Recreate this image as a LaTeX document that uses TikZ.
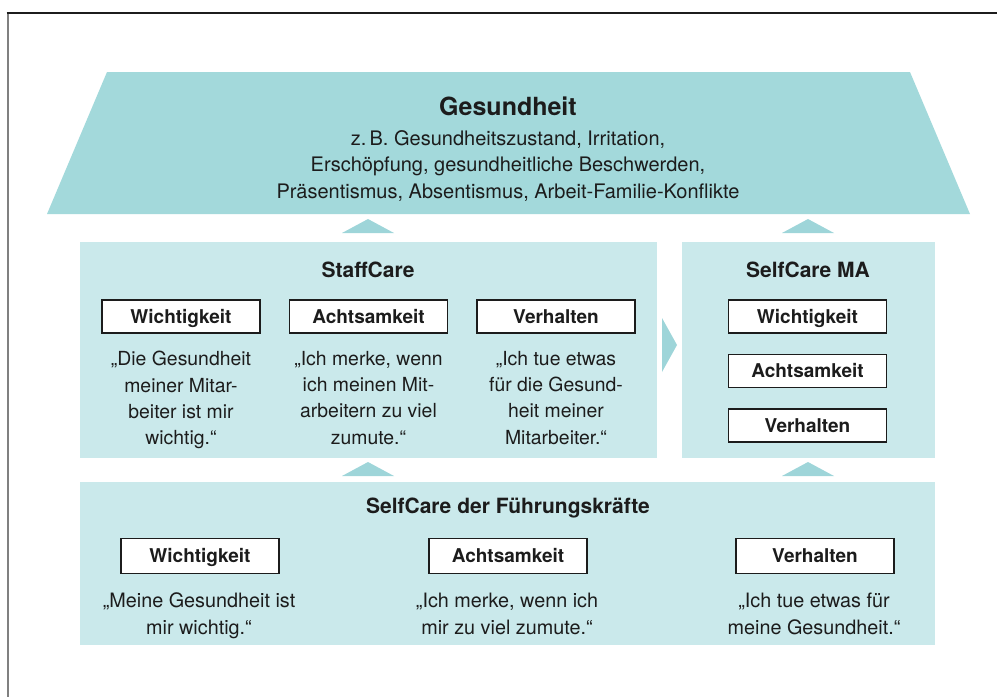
\documentclass[tikz,border=0pt]{standalone}
\usepackage{fontspec}
\setmainfont{TeX Gyre Heros}
\definecolor{roofteal}{RGB}{163,217,219}
\definecolor{panel}{RGB}{202,233,235}
\definecolor{arrowteal}{RGB}{158,213,217}
\definecolor{ink}{RGB}{28,28,28}

\begin{document}
\begin{tikzpicture}[x=1pt,y=-1pt,
  panelbox/.style={fill=panel, draw=none, inner sep=0pt},
  tag/.style={draw=ink, line width=1.1pt, fill=white, minimum width=158pt,
    minimum height=33pt, inner sep=0pt, text height=13pt, text depth=0pt,
    font=\fontsize{19}{22}\selectfont\bfseries, text=ink},
  quote/.style={align=center, font=\fontsize{19.4}{26.3}\selectfont, text=ink,
    inner sep=0pt, anchor=north},
  quotewide/.style={quote, font=\fontsize{19.8}{27}\selectfont},
  heading/.style={font=\fontsize{21}{24}\selectfont\bfseries, text=ink, inner sep=0pt},
  flowtip/.style={fill=arrowteal, draw=none},
]
\useasboundingbox (0,0) rectangle (997,697);

% page frame (top and left edge)
\draw[line width=2pt, draw=black!50] (7.5,13) -- (7.5,697);
\draw[line width=1.5pt, draw=ink] (6.5,13) -- (997,13);

% roof: Gesundheit
\fill[roofteal] (107,72) -- (910,72) -- (970,214) -- (47,214) -- cycle;
\node[font=\fontsize{25}{28}\selectfont\bfseries, text=ink, inner sep=0pt] (gtitle) at (508,106) {Gesundheit};
\node[quote, font=\fontsize{20}{26.5}\selectfont] (gtext) at (508,130) {z.\,B. Gesundheitszustand, Irritation,\\
  Erschöpfung, gesundheitliche Beschwerden,\\
  Präsentismus, Absentismus, Arbeit-Familie-Konflikte};

% middle row panels
\node[panelbox, minimum width=577pt, minimum height=216pt] (staff) at (368.5,350) {};
\node[panelbox, minimum width=253pt, minimum height=216pt] (selfma) at (808.5,350) {};
% bottom panel
\node[panelbox, minimum width=855pt, minimum height=163pt] (selffk) at (507.5,563.5) {};

% flow tips
\fill[flowtip] (342,233) -- (368,219) -- (394,233) -- cycle;
\fill[flowtip] (782,233) -- (808,219) -- (834,233) -- cycle;
\fill[flowtip] (342,476) -- (368,462) -- (394,476) -- cycle;
\fill[flowtip] (782,476) -- (808,462) -- (834,476) -- cycle;
\fill[flowtip] (662,318) -- (677,345) -- (662,372) -- cycle;

% StaffCare
\node[heading] (stitle) at (368,270) {StaffCare};
\node[tag] (sw) at (181,316.5) {Wichtigkeit};
\node[tag] (sa) at (368.5,316.5) {Achtsamkeit};
\node[tag] (sv) at (556,316.5) {Verhalten};
\node[quote] (swq) at (181,351) {„Die Gesundheit\\meiner Mitar-\\beiter ist mir\\wichtig.“};
\node[quote] (saq) at (368.5,351) {„Ich merke, wenn\\ich meinen Mit-\\arbeitern zu viel\\zumute.“};
\node[quote] (svq) at (556,351) {„Ich tue etwas\\für die Gesund-\\heit meiner\\Mitarbeiter.“};

% SelfCare MA
\node[heading] (mtitle) at (808,270) {SelfCare MA};
\node[tag] (mw) at (807.5,316.5) {Wichtigkeit};
\node[tag] (ma) at (807.5,371) {Achtsamkeit};
\node[tag] (mv) at (807.5,425.5) {Verhalten};

% SelfCare der Führungskräfte
\node[heading] (ftitle) at (508,508) {SelfCare der Führungskräfte};
\node[tag, minimum height=35pt] (fw) at (200,556) {Wichtigkeit};
\node[tag, minimum height=35pt] (fa) at (508,556) {Achtsamkeit};
\node[tag, minimum height=35pt] (fv) at (815,556) {Verhalten};
\node[quotewide] (fwq) at (199,593) {„Meine Gesundheit ist\\mir wichtig.“};
\node[quotewide] (faq) at (507,593) {„Ich merke, wenn ich\\mir zu viel zumute.“};
\node[quotewide] (fvq) at (814,593) {„Ich tue etwas für\\meine Gesundheit.“};
\end{tikzpicture}
\end{document}
